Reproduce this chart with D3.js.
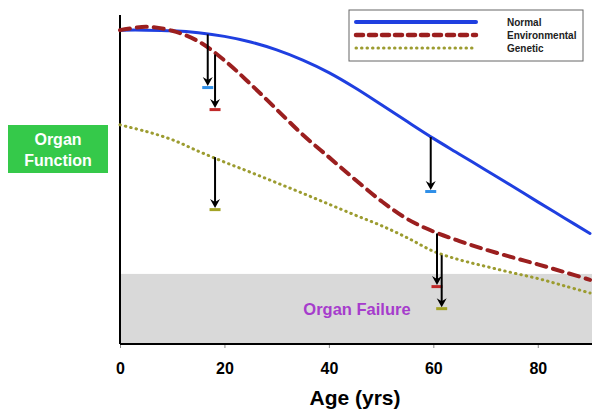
<!DOCTYPE html>
<html><head><meta charset="utf-8">
<script src="https://cdn.jsdelivr.net/npm/d3@7/dist/d3.min.js"></script>
<style>body{margin:0;background:#fff}svg{display:block}text{font-family:Arial,"Liberation Sans",sans-serif}</style>
</head><body><svg id="c" width="600" height="419"></svg>
<script>
const ages = [0,5,10,15,20,25,30,35,40,45,50,55,60,65,70,75,80,85,90];
const normal = [95.4,95.4,95.2,94.6,93.5,91.8,89.4,86.3,82.5,77.9,72.8,67.6,62.5,57.7,52.9,48.1,43.2,38.4,33.6];
const environmental = [95.4,96.4,95.2,92.0,86.2,79.0,71.3,63.6,56.8,50.0,43.5,38.0,34.2,31.3,28.7,26.4,24.2,21.9,19.5];
const genetic = [66.6,64.6,62.1,58.6,55.3,52.2,49.0,45.8,42.5,39.2,36.0,32.3,28.2,25.6,23.6,21.7,19.9,17.7,15.5];
const xTicks = [0,20,40,60,80];
const legendLabels = ["Normal","Environmental","Genetic"];
const arrowAge = [16.8,18.2,18.2,59.5,60.7,61.6];
const arrowFrom = [94.1,88.0,56.8,62.9,33.6,27.0];
const arrowTo = [78.4,71.7,41.3,46.8,17.9,11.2];
const arrowSeries = [0,1,2,0,1,2];
const failureTop = 21.3;

const svg = d3.select("#c");
const x = d3.scaleLinear().domain([0,90]).range([120,590]);
const y = d3.scaleLinear().domain([0,100]).range([344,15]);

const lineColors = ["#1f3fe0","#9b1f1f","#9c9c30"];
const tickColors = ["#2f8fe8","#c02a2a","#a3a326"];

// failure region
svg.append("rect").attr("x",x(0)).attr("y",y(failureTop)).attr("width",592-x(0)).attr("height",y(0)-y(failureTop)).attr("fill","#d9d9d9");
svg.append("text").attr("x",357).attr("y",y(failureTop/2)+6).attr("text-anchor","middle")
  .attr("font-size",16.5).attr("font-weight","bold").attr("fill","#a63ccc").text("Organ Failure");

// axes
const xa = svg.append("g").attr("transform",`translate(0,${y(0)})`)
  .call(d3.axisBottom(x).tickValues(xTicks).tickSize(4).tickFormat(d3.format("d")));
xa.select(".domain").remove();
xa.selectAll(".tick line").attr("stroke","#888");
xa.selectAll(".tick text").attr("font-size",16).attr("font-weight","bold").attr("fill","#000")
  .attr("y",19).attr("dy","0.71em").attr("font-family","Arial, sans-serif");
svg.append("line").attr("x1",x(0)).attr("x2",592).attr("y1",y(0)).attr("y2",y(0)).attr("stroke","#000").attr("stroke-width",2);
svg.append("line").attr("x1",x(0)).attr("x2",x(0)).attr("y1",y(100)).attr("y2",y(0)).attr("stroke","#000").attr("stroke-width",2);
svg.append("text").attr("x",355).attr("y",405).attr("text-anchor","middle").attr("font-size",21).attr("font-weight","bold").text("Age (yrs)");

// y label box
svg.append("rect").attr("x",8).attr("y",125).attr("width",100).attr("height",48).attr("fill","#35c94a");
svg.append("text").attr("x",58).attr("y",145).attr("text-anchor","middle").attr("font-size",16).attr("font-weight","bold").attr("fill","#fff").text("Organ");
svg.append("text").attr("x",58).attr("y",166).attr("text-anchor","middle").attr("font-size",16).attr("font-weight","bold").attr("fill","#fff").text("Function");

// curves
const line = d3.line().x((d,i)=>x(ages[i])).y(d=>y(d)).curve(d3.curveCatmullRom.alpha(0.5));
const series = [normal, environmental, genetic];
const styles = [
  {w:3, dash:null, cap:"round"},
  {w:4, dash:"10,7", cap:"round"},
  {w:3, dash:"0.5,5", cap:"round"}
];
series.forEach((s,k)=>{
  svg.append("path").attr("d",line(s)).attr("fill","none").attr("stroke",lineColors[k])
    .attr("stroke-width",styles[k].w).attr("stroke-dasharray",styles[k].dash).attr("stroke-linecap",styles[k].cap);
});

// arrows
arrowAge.forEach((a,i)=>{
  const xa0 = x(a), yt = y(arrowTo[i]);
  svg.append("line").attr("x1",xa0).attr("x2",xa0).attr("y1",y(arrowFrom[i])).attr("y2",yt-4)
    .attr("stroke","#000").attr("stroke-width",2);
  svg.append("path").attr("d",`M${xa0-5},${yt-9} L${xa0},${yt} L${xa0+5},${yt-9} L${xa0},${yt-6}Z`).attr("fill","#000");
  svg.append("line").attr("x1",xa0-5.5).attr("x2",xa0+5.5).attr("y1",yt+1.5).attr("y2",yt+1.5)
    .attr("stroke",tickColors[arrowSeries[i]]).attr("stroke-width",3);
});

// legend
const lg = svg.append("g");
lg.append("rect").attr("x",349).attr("y",10).attr("width",234).attr("height",51).attr("fill","#fff").attr("stroke","#666").attr("stroke-width",1);
const legStyles = [{w:4,dash:null},{w:4.5,dash:"7,6"},{w:3,dash:"0.5,5"}];
legendLabels.forEach((t,k)=>{
  const ly = 22 + k*13;
  lg.append("line").attr("x1",356).attr("x2",476).attr("y1",ly).attr("y2",ly).attr("stroke",lineColors[k])
    .attr("stroke-width",legStyles[k].w).attr("stroke-dasharray",legStyles[k].dash).attr("stroke-linecap","round");
  lg.append("text").attr("x",507).attr("y",ly+3.5).attr("font-size",10).attr("font-weight","bold").attr("fill","#222").text(t);
});
</script></body></html>
